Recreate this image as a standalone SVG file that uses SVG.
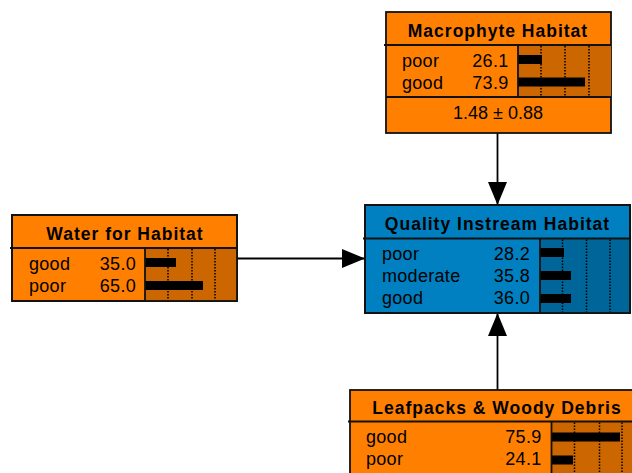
<svg xmlns="http://www.w3.org/2000/svg" width="632" height="473" viewBox="0 0 632 473">
<style>
.box{stroke:#111;stroke-width:1.8}
.o{fill:#FF8000}
.od{fill:#CC6600}
.b{fill:#0080C0}
.bd{fill:#006699}
.sep{stroke:#111;stroke-width:1.8}
.dot{stroke:#000;stroke-width:1.5;stroke-dasharray:1.5 1.5}
.bar{fill:#000}
.t{font-family:"Liberation Sans",Arial,sans-serif;font-weight:bold;font-size:17.5px;letter-spacing:1px;text-anchor:middle;fill:#000}
.l{font-family:"Liberation Sans",Arial,sans-serif;font-size:18px;letter-spacing:0.3px;fill:#000}
.n{font-family:"Liberation Sans",Arial,sans-serif;font-size:18px;letter-spacing:0.3px;text-anchor:end;fill:#000}
.c{font-family:"Liberation Sans",Arial,sans-serif;font-size:18px;text-anchor:middle;fill:#000}
.edge{stroke:#000;stroke-width:1.8;fill:none;marker-end:url(#ah)}
</style>
<defs>
<marker id="ah" markerUnits="userSpaceOnUse" markerWidth="24" markerHeight="20" refX="23" refY="9.5" orient="auto">
<path d="M0,0 L23,9.5 L0,19 z" fill="#000"/>
</marker>
</defs>
<rect width="632" height="473" fill="#fff"/>

<g id="connectors">
<line class="edge" x1="497.5" y1="133" x2="497.5" y2="205"/>
<line class="edge" x1="237" y1="258.5" x2="365" y2="258.5"/>
<line class="edge" x1="497.5" y1="390" x2="497.5" y2="313"/>
</g>

<g id="macrophyte">
<rect class="box o" x="386" y="12" width="225" height="121"/>
<rect class="od" x="518" y="45" width="93" height="52"/>
<line class="dot" x1="541" y1="46" x2="541" y2="96"/>
<line class="dot" x1="565" y1="46" x2="565" y2="96"/>
<line class="dot" x1="589" y1="46" x2="589" y2="96"/>
<rect class="bar" x="518" y="55" width="24" height="9"/>
<rect class="bar" x="518" y="77.5" width="67" height="9"/>
<line class="sep" x1="518" y1="45" x2="518" y2="97"/>
<line class="sep" x1="384" y1="45" x2="611" y2="45"/>
<line class="sep" x1="386" y1="97" x2="611" y2="97"/>
<text class="t" x="498" y="37">Macrophyte Habitat</text>
<text class="l" x="402" y="66.5">poor</text>
<text class="n" x="508.5" y="66.5">26.1</text>
<text class="l" x="402" y="88.5">good</text>
<text class="n" x="508.5" y="88.5">73.9</text>
<text class="c" x="498" y="119">1.48 ± 0.88</text>
</g>

<g id="water">
<rect class="box o" x="12" y="215" width="225" height="86"/>
<rect class="od" x="145" y="248" width="92" height="53"/>
<line class="dot" x1="168" y1="249" x2="168" y2="300"/>
<line class="dot" x1="192" y1="249" x2="192" y2="300"/>
<line class="dot" x1="215" y1="249" x2="215" y2="300"/>
<rect class="bar" x="145" y="258" width="31" height="9"/>
<rect class="bar" x="145" y="281" width="58" height="9"/>
<line class="sep" x1="145" y1="248" x2="145" y2="301"/>
<line class="sep" x1="10" y1="248" x2="237" y2="248"/>
<rect class="box" x="12" y="215" width="225" height="86" fill="none"/>
<text class="t" x="125" y="239.5">Water for Habitat</text>
<text class="l" x="29" y="269.5">good</text>
<text class="n" x="136" y="269.5">35.0</text>
<text class="l" x="29" y="291.5">poor</text>
<text class="n" x="136" y="291.5">65.0</text>
</g>

<g id="quality">
<rect class="box b" x="365" y="205" width="265" height="108"/>
<rect class="bd" x="540" y="238.5" width="90" height="74.5"/>
<line class="dot" x1="562.5" y1="239.5" x2="562.5" y2="312"/>
<line class="dot" x1="586.5" y1="239.5" x2="586.5" y2="312"/>
<line class="dot" x1="610" y1="239.5" x2="610" y2="312"/>
<rect class="bar" x="540" y="248" width="24" height="9"/>
<rect class="bar" x="540" y="271" width="31" height="9"/>
<rect class="bar" x="540" y="294" width="31" height="9"/>
<line class="sep" x1="540" y1="238.5" x2="540" y2="313"/>
<line class="sep" x1="363" y1="238.5" x2="630" y2="238.5"/>
<rect class="box" x="365" y="205" width="265" height="108" fill="none"/>
<text class="t" x="497.5" y="229.5">Quality Instream Habitat</text>
<text class="l" x="382" y="260">poor</text>
<text class="n" x="530" y="260">28.2</text>
<text class="l" x="382" y="282">moderate</text>
<text class="n" x="530" y="282">35.8</text>
<text class="l" x="382" y="304">good</text>
<text class="n" x="530" y="304">36.0</text>
</g>

<g id="leafpacks">
<rect class="box o" x="350" y="390" width="295" height="100"/>
<rect class="od" x="551.5" y="421.5" width="93" height="60"/>
<line class="dot" x1="574.5" y1="422.5" x2="574.5" y2="473"/>
<line class="dot" x1="599.5" y1="422.5" x2="599.5" y2="473"/>
<line class="dot" x1="622" y1="422.5" x2="622" y2="473"/>
<rect class="bar" x="551.5" y="432.5" width="68.5" height="9"/>
<rect class="bar" x="551.5" y="455.5" width="21.5" height="9"/>
<line class="sep" x1="551.5" y1="421.5" x2="551.5" y2="490"/>
<line class="sep" x1="348" y1="421.5" x2="645" y2="421.5"/>
<text class="t" x="497" y="413.5">Leafpacks &amp; Woody Debris</text>
<text class="l" x="366" y="442.5">good</text>
<text class="n" x="541.5" y="442.5">75.9</text>
<text class="l" x="366" y="465">poor</text>
<text class="n" x="541.5" y="465">24.1</text>
</g>
</svg>
